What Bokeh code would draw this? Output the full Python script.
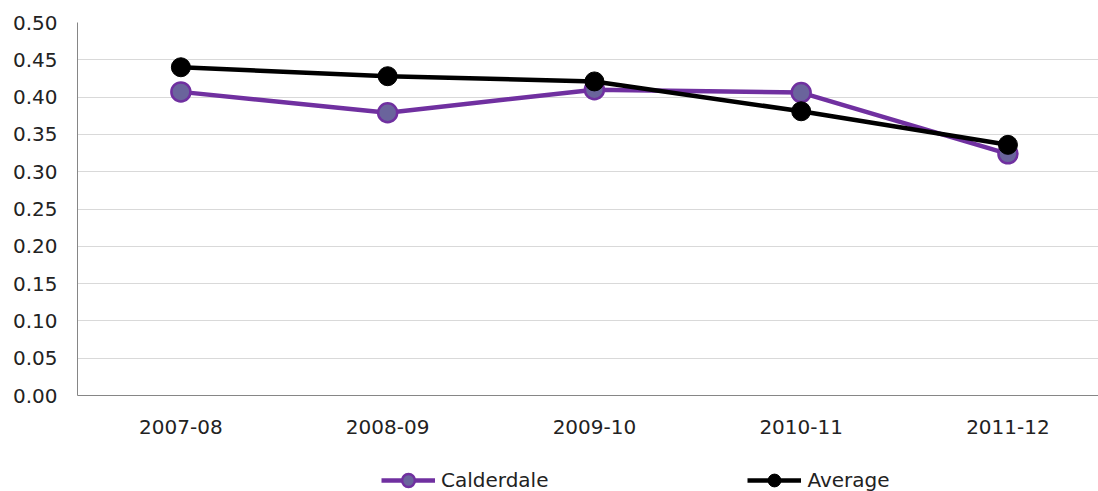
from bokeh.plotting import figure
from bokeh.models import Range1d, FixedTicker, Legend, LegendItem
from bokeh.layouts import column
from bokeh.embed import file_html
from bokeh.resources import INLINE

years = ["2007-08", "2008-09", "2009-10", "2010-11", "2011-12"]
calderdale = [0.407, 0.379, 0.410, 0.406, 0.324]
average = [0.440, 0.428, 0.421, 0.381, 0.336]
y_ticks = [0.00, 0.05, 0.10, 0.15, 0.20, 0.25, 0.30, 0.35, 0.40, 0.45, 0.50]

xs = list(range(len(years)))
FONT = "DejaVu Sans"
FS = "20px"
purple = "#7030a0"
marker_fill = "#6a649c"

p = figure(width=1098, height=455, output_backend="svg", toolbar_location=None,
           x_range=Range1d(-0.5, 4.438), y_range=Range1d(0, 0.5),
           min_border_left=77, min_border_right=0, min_border_top=22, min_border_bottom=60)
p.outline_line_color = None
p.background_fill_color = "white"

p.xgrid.visible = False
p.ygrid.grid_line_color = "#d9d9d9"
p.ygrid.grid_line_width = 1
p.ygrid.ticker = FixedTicker(ticks=y_ticks)

p.yaxis.ticker = FixedTicker(ticks=y_ticks)
p.yaxis.major_label_overrides = {t: f"{t:.2f}" for t in y_ticks}
p.yaxis.axis_line_color = "#868686"
p.yaxis.major_tick_line_color = None
p.yaxis.minor_tick_line_color = None
p.yaxis.major_label_standoff = 14
p.yaxis.major_label_text_font = FONT
p.yaxis.major_label_text_font_size = FS
p.yaxis.major_label_text_color = "#222222"

p.xaxis.ticker = FixedTicker(ticks=xs)
p.xaxis.major_label_overrides = {i: y for i, y in enumerate(years)}
p.xaxis.axis_line_color = "#868686"
p.xaxis.major_tick_line_color = None
p.xaxis.minor_tick_line_color = None
p.xaxis.major_label_standoff = 18
p.xaxis.major_label_text_font = FONT
p.xaxis.major_label_text_font_size = FS
p.xaxis.major_label_text_color = "#222222"

p.line(xs, calderdale, line_color=purple, line_width=4.5)
p.scatter(xs, calderdale, size=19, fill_color=marker_fill, line_color=purple, line_width=2.5)
p.line(xs, average, line_color="black", line_width=4.5)
p.scatter(xs, average, size=19, fill_color="black", line_color="black", line_width=1)

# legend strip below the chart
q = figure(width=1098, height=36, output_backend="svg", toolbar_location=None,
           x_range=Range1d(-0.5, 4.438), y_range=Range1d(0, 0.5),
           min_border=0, x_axis_type=None, y_axis_type=None)
q.outline_line_color = None
q.xgrid.visible = False
q.ygrid.visible = False
ql1 = q.line(xs, calderdale, line_color=purple, line_width=4.5, visible=False)
qs1 = q.scatter(xs, calderdale, size=15, fill_color=marker_fill, line_color=purple, line_width=2.5, visible=False)
ql2 = q.line(xs, average, line_color="black", line_width=4.5, visible=False)
qs2 = q.scatter(xs, average, size=15, fill_color="black", line_color="black", line_width=1, visible=False)

legend = Legend(items=[LegendItem(label="Calderdale", renderers=[ql1, qs1]),
                       LegendItem(label="Average", renderers=[ql2, qs2])],
                orientation="horizontal", location=(304, -5),
                glyph_width=54, glyph_height=32, label_standoff=6, spacing=199,
                padding=0, margin=0, border_line_color=None, background_fill_alpha=0,
                label_text_font=FONT, label_text_font_size=FS, label_text_color="#222222")
q.add_layout(legend, "center")

open("out.html", "w").write(file_html(column(p, q, spacing=0), INLINE))
